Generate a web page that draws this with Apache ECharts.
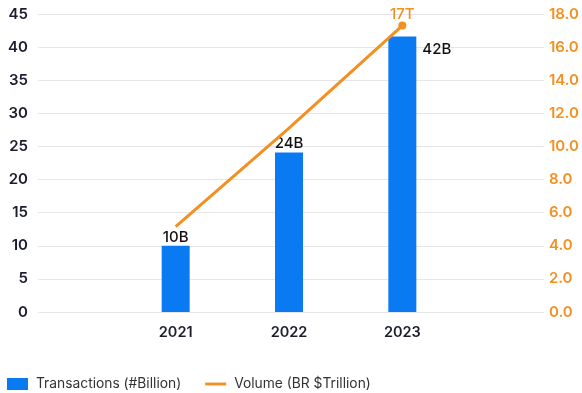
<!DOCTYPE html>
<html>
<head>
<meta charset="utf-8">
<script src="https://cdn.jsdelivr.net/npm/echarts@6/dist/echarts.min.js"></script>
<style>
  html, body { margin: 0; padding: 0; background: #fff; }
  #chart { width: 582px; height: 393px; }
</style>
</head>
<body>
<div id="chart"></div>
<script>
// Yearly payment activity: transaction counts (bars) and volume (line)
const years = ['2021', '2022', '2023'];
const transactions = [10, 24.1, 41.6];   // # billion
const volume = [5.15, 11.1, 17.3];       // BR $ trillion
const leftTicks = { min: 0, max: 45, interval: 5 };
const rightTicks = { min: 0, max: 18, interval: 2 };

const FONT = 'Inter';
const DARK = '#1b1d2e';
const BLUE = '#0a7af2';
const ORANGE = '#f39021';

const chart = echarts.init(document.getElementById('chart'), null, { renderer: 'canvas' });

const gridTop = 14, gridBottom = 81;

chart.setOption({
  animation: false,
  textStyle: { fontFamily: FONT },
  grid: [
    // axes & gridlines
    { left: 38, right: 38, top: gridTop, bottom: gridBottom },
    // marks
    { left: 119, right: 123, top: gridTop, bottom: gridBottom }
  ],
  legend: {
    left: 7,
    top: 377,
    padding: 0,
    itemWidth: 21,
    itemHeight: 12,
    itemGap: 24,
    textStyle: { fontFamily: FONT, fontSize: 13.8, color: '#333', padding: [0, 0, 0, 3] },
    data: [
      { name: 'Transactions (#Billion)', icon: 'rect' },
      { name: 'Volume (BR $Trillion)', icon: 'path://M0,0 L22,0 L22,3 L0,3 Z' }
    ]
  },
  xAxis: [
    { type: 'category', gridIndex: 0, data: years, show: false },
    {
      type: 'category', gridIndex: 1, data: years,
      axisLine: { show: false }, axisTick: { show: false },
      axisLabel: { color: DARK, fontFamily: FONT, fontWeight: 600, fontSize: 14.5, margin: 13 }
    }
  ],
  yAxis: [
    {
      type: 'value', gridIndex: 0, position: 'left', ...leftTicks,
      axisLine: { show: false }, axisTick: { show: false },
      axisLabel: { color: DARK, fontFamily: FONT, fontWeight: 600, fontSize: 15, margin: 10 },
      splitLine: { lineStyle: { color: '#e6e6ea', width: 1 } }
    },
    {
      type: 'value', gridIndex: 0, position: 'right', ...rightTicks,
      axisLine: { show: false }, axisTick: { show: false },
      axisLabel: {
        color: ORANGE, fontFamily: FONT, fontWeight: 600, fontSize: 15, margin: 5,
        formatter: v => v.toFixed(1)
      },
      splitLine: { show: false }
    },
    { type: 'value', gridIndex: 1, ...leftTicks, show: false, splitLine: { show: false } },
    { type: 'value', gridIndex: 1, ...rightTicks, show: false, splitLine: { show: false } }
  ],
  series: [
    {
      name: 'Transactions (#Billion)',
      type: 'bar',
      xAxisIndex: 1, yAxisIndex: 2,
      barWidth: 28,
      itemStyle: { color: BLUE },
      data: transactions.map((v, i) => {
        const item = { value: v };
        if (i === transactions.length - 1) {
          item.label = { position: [34, 5] };
        }
        return item;
      }),
      label: {
        show: true,
        position: 'top',
        distance: 1,
        color: '#111',
        fontFamily: FONT,
        fontWeight: 500,
        fontSize: 15,
        formatter: p => Math.round(p.value) + 'B'
      },
      z: 2
    },
    {
      name: 'Volume (BR $Trillion)',
      type: 'line',
      xAxisIndex: 1, yAxisIndex: 3,
      symbol: 'none',
      lineStyle: { color: ORANGE, width: 3 },
      itemStyle: { color: ORANGE },
      data: volume.map((v, i) => {
        const last = i === volume.length - 1;
        const item = { value: v };
        if (last) {
          item.symbol = 'circle';
          item.symbolSize = 8;
          item.label = {
            show: true, position: 'top', distance: 0,
            color: ORANGE, fontFamily: FONT, fontWeight: 500, fontSize: 15,
            formatter: p => Math.round(p.value) + 'T'
          };
        }
        return item;
      }),
      z: 3
    }
  ]
});
</script>
</body>
</html>
